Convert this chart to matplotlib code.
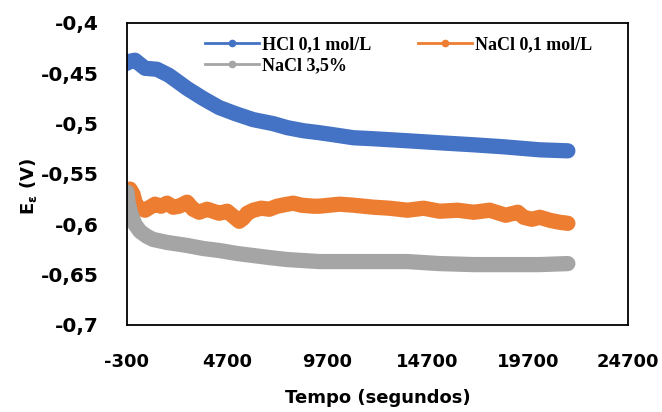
import numpy as np
import matplotlib
matplotlib.use("Agg")
import matplotlib.pyplot as plt
from matplotlib.lines import Line2D

# HCl 0,1 mol/L
t_hcl = [-300, -150, 100, 600, 1200, 1800, 2700, 3500, 4300, 5100, 6000, 7000,
         7700, 8500, 9300, 10000, 11000, 12000, 13700, 15300, 17000, 18500, 20300, 21700]
v_hcl = [-0.440, -0.438, -0.437, -0.445, -0.446, -0.452, -0.465, -0.475, -0.484, -0.490,
         -0.496, -0.500, -0.504, -0.507, -0.509, -0.511, -0.514, -0.515, -0.517, -0.519,
         -0.521, -0.523, -0.526, -0.527]

# NaCl 0,1 mol/L
t_nacl = [-300, -150, 0, 150, 350, 600, 850, 1100, 1400, 1700, 2000, 2300, 2700, 3000,
          3300, 3700, 4000, 4300, 4700, 5000, 5300, 5500, 5700, 6000, 6400, 6800, 7200,
          7700, 8000, 8400, 9000, 9300, 10300, 11000, 12000, 12800, 13700, 14500, 15300,
          16200, 17000, 17800, 18600, 19200, 19500, 19900, 20300, 20800, 21300, 21700]
v_nacl = [-0.567, -0.565, -0.570, -0.581, -0.584, -0.586, -0.583, -0.580, -0.582, -0.579,
          -0.583, -0.582, -0.578, -0.585, -0.588, -0.585, -0.587, -0.589, -0.587, -0.592,
          -0.597, -0.594, -0.589, -0.586, -0.584, -0.585, -0.582, -0.580, -0.579, -0.581,
          -0.582, -0.582, -0.580, -0.581, -0.583, -0.584, -0.586, -0.584, -0.587, -0.586,
          -0.588, -0.586, -0.591, -0.588, -0.593, -0.595, -0.593, -0.596, -0.598, -0.599]

# NaCl 3,5%
t_35 = [-300, -250, -100, 100, 350, 700, 1000, 1700, 2700, 3500, 4300, 5200, 6000, 6800,
        7700, 8500, 9300, 11000, 12000, 13700, 15300, 17000, 18500, 20300, 21700]
v_35 = [-0.568, -0.578, -0.590, -0.600, -0.607, -0.612, -0.615, -0.618, -0.621, -0.624,
        -0.626, -0.629, -0.631, -0.633, -0.635, -0.636, -0.637, -0.637, -0.637, -0.637,
        -0.639, -0.640, -0.640, -0.640, -0.639]

labels = ["HCl 0,1 mol/L", "NaCl 0,1 mol/L", "NaCl 3,5%"]
colors = ["#4472C4", "#ED7D31", "#A5A5A5"]

xticks = [-300, 4700, 9700, 14700, 19700, 24700]
yticks = [-0.7, -0.65, -0.6, -0.55, -0.5, -0.45, -0.4]

plt.rcParams['mathtext.default'] = 'regular'
plt.rcParams['font.family'] = 'DejaVu Sans'
fig = plt.figure(figsize=(6.62, 4.12), dpi=100)
ax = fig.add_axes([0.1918, 0.2112, 0.7568, 0.733])

series = [(t_hcl, v_hcl), (t_nacl, v_nacl), (t_35, v_35)]
for (t, v), c in zip(series, colors):
    ax.plot(t, v, color=c, lw=11, solid_capstyle='round', solid_joinstyle='round')

ax.set_xlim(-300, 24700)
ax.set_ylim(-0.7, -0.4)
ax.set_xticks(xticks)
ax.set_yticks(yticks)
ax.set_xticklabels([str(x) for x in xticks], fontsize=13, fontweight='bold')
ax.set_yticklabels([("%g" % y).replace('.', ',') for y in yticks], fontsize=14.5,
                   fontweight='bold')
ax.tick_params(axis='y', length=0, pad=20)
ax.tick_params(axis='x', length=0, pad=20)
for s in ax.spines.values():
    s.set_linewidth(1.3)
    s.set_color('black')

ax.set_xlabel("Tempo (segundos)", fontsize=13, fontweight='bold', labelpad=13)
ax.set_ylabel("E$_ε$ (V)", fontsize=13, fontweight='bold')
ax.yaxis.set_label_coords(-0.176, 0.46)

# legend order: row 1 HCl, NaCl 0,1 ; row 2 NaCl 3,5%
order = [0, 2, 1]
handles = [Line2D([], [], color=colors[i], lw=2, marker='o', ms=4.5) for i in order]
ax.legend(handles, [labels[i] for i in order], loc='upper left',
          bbox_to_anchor=(0.156, 0.955), ncol=2, frameon=False, handlelength=3.0,
          columnspacing=2.6, handletextpad=0.15, labelspacing=0.2, borderpad=0,
          borderaxespad=0, prop={'family': 'Liberation Serif', 'weight': 'bold', 'size': 13})

fig.savefig("out.png", dpi=100)
